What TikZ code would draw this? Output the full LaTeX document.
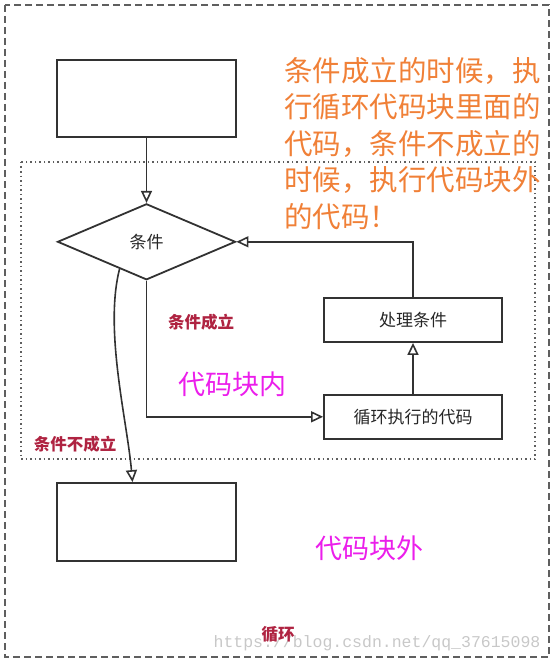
\documentclass[tikz,border=0pt]{standalone}
\usepackage{fontspec}
\newfontfamily\cjk{Noto Sans CJK SC}
\setmonofont{Liberation Mono}
\usepackage{xcolor}
\usepackage{tikz}
\usetikzlibrary{arrows.meta,positioning,shapes.geometric,calc}

\definecolor{linegray}{RGB}{50,50,50}
\definecolor{framegray}{RGB}{95,95,95}
\definecolor{notered}{RGB}{175,35,65}
\definecolor{tipmagenta}{RGB}{235,30,235}
\definecolor{tiporange}{RGB}{240,128,55}
\definecolor{markgray}{RGB}{200,200,200}

\begin{document}
\begin{tikzpicture}[
  x=1pt, y=1pt,
  blk/.style={rectangle, draw=linegray, line width=1.8pt, minimum width=179pt,
              minimum height=77pt, inner sep=0pt},
  act/.style={rectangle, draw=linegray, line width=1.8pt, minimum width=178pt,
              minimum height=44pt, inner sep=0pt, font=\cjk\fontsize{17}{19}\selectfont,
              text=black!85},
  cond/.style={diamond, draw=linegray, line width=1.8pt, minimum width=178pt,
               minimum height=76pt, inner sep=0pt, font=\cjk\fontsize{17}{19}\selectfont,
               text=black!85},
  arr/.style={-{Triangle[open, length=12pt, width=11pt]}, line width=1.6pt, draw=linegray},
  note/.style={font=\cjk\bfseries\fontsize{16.5}{18}\selectfont, text=notered},
  tip/.style={font=\cjk\fontsize{27}{30}\selectfont, text=tipmagenta}
]
  \useasboundingbox (0,0) rectangle (553,-663);
  % frames
  \draw[framegray, line width=1.6pt, dash pattern=on 7pt off 4pt] (5,-5) rectangle (549,-657);
  \draw[framegray, line width=1.5pt, dash pattern=on 1.5pt off 3pt] (21,-162) rectangle (535,-459);

  \node[blk] (start) at (146.5,-98.5) {};
  \node[cond, below=65pt of start] (test) {条件};
  \node[act] (update) at (413,-320) {处理条件};
  \node[act, below=51pt of update] (body) {循环执行的代码};
  \node[blk, minimum height=78pt] (after) at (146.5,-522) {};

  \draw[arr] (start) -- (test);
  \draw[arr] (test.south) |- (body.west);
  \draw[arr] (body) -- (update);
  \draw[arr] (update.north) |- (test.east);
  \coordinate (leave) at ($(test.west)!0.7!(test.south)$);
  \draw[arr] (leave) .. controls (104,-330) and (127,-420) .. ([xshift=-14pt]after.north);

  \node[note] (yes) at (201,-322) {条件成立};
  \node[note] (no) at (75,-444) {条件不成立};
  \node[tip] (inside) at (232,-384) {代码块内};
  \node[tip] (outside) at (369,-548) {代码块外};
  \node[anchor=north west, inner sep=0pt, align=left, text=tiporange,
        font=\cjk\fontsize{28.5}{36.5}\selectfont] (remark) at (284,-57)
    {条件成立的时候，执\\行循环代码块里面的\\代码，条件不成立的\\时候，执行代码块外\\的代码！};
  \node[font=\ttfamily\fontsize{16.5}{18}\selectfont, text=markgray] (mark) at (377,-643)
    {https://blog.csdn.net/qq\_37615098};
  \node[note] (loop) at (278,-634) {循环};
\end{tikzpicture}
\end{document}
